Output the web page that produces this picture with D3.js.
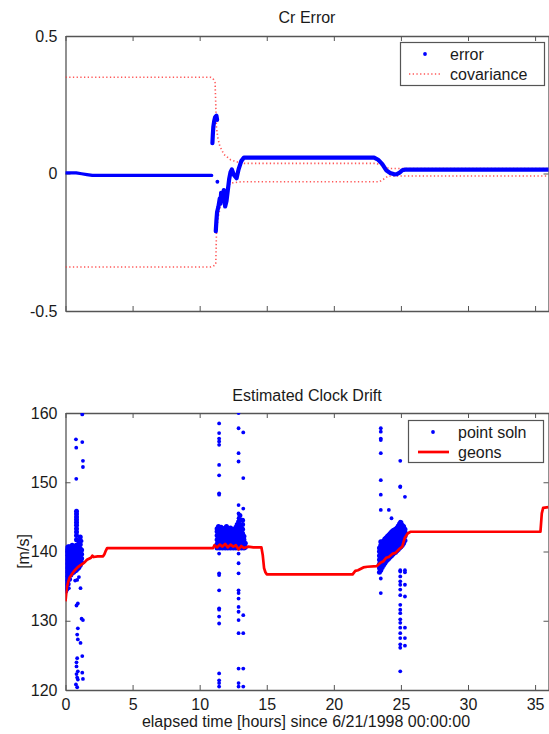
<!DOCTYPE html>
<html><head><meta charset="utf-8">
<script src="https://cdn.jsdelivr.net/npm/d3@7"></script>
<style>
html,body{margin:0;padding:0;background:#fff;}
svg{display:block;font-family:"Liberation Sans",Arial,Helvetica,sans-serif;}
</style></head><body>
<svg id="chart" width="549" height="734"></svg>
<script>
// ---------- DATA ----------
const xTicks = [0, 5, 10, 15, 20, 25, 30, 35];
const topYTicks = [-0.5, 0, 0.5];
const topYTickLabels = ["-0.5", "0", "0.5"];
const botYTicks = [120, 130, 140, 150, 160];
const topTitle = "Cr Error";
const botTitle = "Estimated Clock Drift";
const xLabel = "elapsed time [hours] since 6/21/1998 00:00:00";
const botYLabel = "[m/s]";
const topLegend = ["error", "covariance"];
const botLegend = ["point soln", "geons"];

// Cr error (dense dots, drawn as a thick trace) [hours, value]
const errorTraceA = [[0,0.002],[0.8,0.002],[1.2,-0.001],[1.6,-0.004],[2.0,-0.007],[10.9,-0.007]];
const errorTraceB = [[10.95,0.11],[10.98,0.14],[11.02,0.17],[11.08,0.19],[11.15,0.205],[11.25,0.21],[11.3,0.195]];
const errorTraceC = [[11.2,-0.21],[11.25,-0.17],[11.3,-0.14],[11.4,-0.12],[11.5,-0.09],[11.55,-0.11],[11.6,-0.07],[11.7,-0.1],[11.8,-0.06],[11.9,-0.12],[12.0,-0.1],[12.1,-0.06],[12.2,-0.02],[12.3,0.005],[12.4,0.015],[12.55,-0.005],[12.75,-0.017],[12.9,0.015],[13.1,0.045],[13.3,0.058],[23.0,0.058],[23.3,0.05],[23.6,0.035],[23.9,0.012],[24.2,0.002],[24.5,-0.003],[24.7,-0.002],[24.9,0.003],[25.1,0.012],[25.3,0.014],[36,0.014]];
const errorSingles = [[11.32,-0.03]];

// covariance bounds
const covUpper = [[0,0.35],[10.8,0.35],[11.0,0.345],[11.15,0.33],[11.2,0.25],[11.25,0.17],[11.35,0.13],[11.5,0.1],[11.8,0.07],[12.3,0.05],[13.1,0.037],[23.1,0.037],[23.6,0.03],[24.1,0.018],[36,0.018]];
const covLower = [[0,-0.34],[10.8,-0.34],[11.0,-0.338],[11.2,-0.33],[11.25,-0.22],[11.35,-0.17],[11.6,-0.1],[11.9,-0.06],[12.3,-0.035],[13.1,-0.03],[23.4,-0.03],[23.8,-0.018],[24.05,-0.009],[36,-0.009]];

// point solutions: dense clusters as [hour, y1, y2, ...]
const pointCluster1 = [
 [0.02,134.3,134.9,135.5,136.1,136.7,137.3,137.9,138.5,139.1,139.7,140.2],
 [0.1,134.6,135.2,135.8,136.4,137.0,137.6,138.2,138.8,139.4,140.0,140.5],
 [0.2,135.3,135.9,136.5,137.1,137.7,138.3,138.9,139.5,140.1,140.7],
 [0.3,136.0,136.6,137.2,137.8,138.4,139.0,139.6,140.2,140.7],
 [0.4,136.6,137.2,137.8,138.4,139.0,139.6,140.2,140.6],
 [0.5,136.9,137.5,138.1,138.7,139.3,139.9,140.5,140.9],
 [0.6,137.0,137.6,138.2,138.8,139.4,140.0,140.6],
 [0.7,137.2,137.8,138.4,139.0,139.6,140.2,140.7],
 [0.8,137.3,137.9,138.5,139.1,139.7,140.3,140.9],
 [0.9,137.5,138.1,138.7,139.3,139.9,140.5],
 [1.0,137.7,138.3,138.9,139.5,140.1,140.7,141.2],
 [1.1,138.0,138.6,139.2,139.8,140.4,141.0,141.6,142.1],
 [1.2,138.4,139.0,139.6,140.2],
 [0.82,141.7,142.3,142.8,143.3,143.8,144.2,144.6,145.0,145.4,145.8]
];
const pointCluster2 = [
 [11.3,140.5,141.1,141.7,142.3,142.9,143.3],[11.4,140.8,141.4,142.0,142.6,143.2,143.6],
 [11.5,140.5,141.1,141.7,142.3,142.9],[11.6,140.8,141.4,142.0,142.6,143.2,143.5],
 [11.7,140.5,141.1,141.7,142.3,142.9,143.3],[11.8,140.8,141.4,142.0,142.6,143.2],
 [11.9,140.5,141.1,141.7,142.3,142.9,143.4],[12.0,140.8,141.4,142.0,142.6,143.2,143.6],
 [12.1,140.5,141.1,141.7,142.3,142.9,143.3],[12.2,140.8,141.4,142.0,142.6,143.1],
 [12.3,140.5,141.1,141.7,142.3,142.9,143.4],[12.4,140.8,141.4,142.0,142.6,143.2],
 [12.5,140.5,141.1,141.7,142.3,142.9],[12.6,140.8,141.4,142.0,142.6,143.2],
 [12.7,140.5,141.1,141.7,142.3,142.9,143.5],[12.8,140.8,141.4,142.0,142.6,143.2,143.9],
 [12.9,140.5,141.1,141.7,142.3,142.9,143.5,144.3],[13.0,140.8,141.4,142.0,142.6,143.2,143.8,144.6,145.2],
 [13.1,140.5,141.1,141.7,142.3,142.9,143.4],[13.2,140.8,141.4,142.0,142.6,143.2,143.9,144.5],
 [13.3,140.5,141.1,141.7,142.2],[13.4,140.6,141.2]
];
const pointCluster3 = [
 [23.4,137.0,137.6,138.2,138.8,139.4,140.0,140.5],[23.5,137.3,137.9,138.5,139.1,139.7,140.3,140.9,141.4],
 [23.6,137.7,138.3,138.9,139.5,140.1,140.7,141.2],[23.7,138.0,138.6,139.2,139.8,140.4,141.0,141.5],
 [23.8,138.3,138.9,139.5,140.1,140.7,141.3,141.8],[23.9,138.6,139.2,139.8,140.4,141.0,141.6,142.0],
 [24.0,138.8,139.4,140.0,140.6,141.2,141.8,142.2],[24.1,139.0,139.6,140.2,140.8,141.4,142.0,142.4],
 [24.2,139.2,139.8,140.4,141.0,141.6,142.2,142.6],[24.3,139.4,140.0,140.6,141.2,141.8,142.4,142.8],
 [24.4,139.6,140.2,140.8,141.4,142.0,142.6,143.0],[24.5,139.8,140.4,141.0,141.6,142.2,142.8,143.1],
 [24.6,139.9,140.5,141.1,141.7,142.3,142.9,143.2],[24.7,140.1,140.7,141.3,141.9,142.5,143.1,143.4],
 [24.8,140.3,140.9,141.5,142.1,142.7,143.3,143.7],[24.9,140.5,141.1,141.7,142.3,142.9,143.5,144.0],
 [25.0,140.7,141.3,141.9,142.5,143.1,143.7,144.2],[25.1,140.9,141.5,142.1,142.7,143.3,143.8],
 [25.2,141.2,141.8,142.4,143.0,143.6],[25.3,141.6,142.2,142.8,143.2]
];
// scattered point solutions (outliers) as [hour, y1, y2, ...]
const pointOutliers = [
 [1.25,159.8,155.8,124.9,122.5],[0.78,156.2,120.8],[0.8,155.0,150.5],[1.3,153.1,152.2,130.1,121.6],
 [1.2,141.5,130.3],[0.25,134.7],[0.87,135.9,128.0,124.6,121.8,120.4],[0.72,135.8],[1.12,134.7,126.8],
 [1.0,136.3],[0.92,132.5,128.9,127.3,122.7,121.5],[0.82,132.2,124.0,123.4,122.3],
 [11.45,158.5,157.1,156.3,155.9,155.4,152.5,151.0,148.4,148.2,139.7,136.85,136.6,134.4,131.8,131.6,130.6,129.6,122.4,121.4,121.0,120.5],
 [12.9,160,157.8,154.2,153.0,146.7,145.5,144.8,139.7,138.3,136.85,134.4,134.0,133.2,132.0,131.3,130.1,128.2,123.1,121.0,120.5],
 [13.25,157.2,150.6,146.2,130.8,128.2,123.1,120.5],
 [23.5,157.8,157.3,156.3,156.1,154.2,150.3,148.2,146.0,137.3,136.1,134.0],
 [24.1,146.0],[24.3,144.8],
 [24.95,153.1,149.4,149.3,144.3,143.6,137.3,137.1,136.4,135.7,135.2,134.5,133.7,132.3,131.6,131.1,130.2,129.7,129.0,128.2,127.5,126.6,126.1,122.7],
 [25.3,147.9,137.3,137.0,135.2,133.5,129.0,127.5,126.4]
];

// geons clock drift estimate [hour, m/s]
const geons = [[0.0,132.8],[0.05,133.8],[0.1,134.8],[0.2,135.6],[0.3,136.2],[0.5,136.8],[0.7,137.3],[0.9,137.7],[1.1,138.0],[1.4,138.4],[1.6,138.8],[1.9,139.1],[2.0,139.4],[2.1,139.2],[2.4,139.3],[2.8,139.3],[2.9,139.6],[3.0,140.1],[3.1,140.5],[11.0,140.5],[11.1,140.9],[11.3,140.6],[11.5,141.0],[11.7,140.7],[11.9,141.1],[12.1,140.6],[12.3,141.0],[12.5,140.7],[12.7,140.9],[12.9,140.3],[13.1,140.8],[13.3,140.5],[13.6,140.7],[14.0,140.6],[14.6,140.6],[14.7,139.5],[14.8,137.6],[14.9,137.0],[15.0,136.7],[21.4,136.7],[21.6,137.2],[21.8,137.3],[22.2,137.7],[22.5,137.8],[23.2,137.9],[23.5,138.4],[23.7,138.6],[23.9,139.1],[24.1,139.2],[24.4,139.7],[24.6,139.8],[24.9,140.4],[25.1,140.7],[25.2,141.4],[25.3,142.0],[25.5,142.6],[25.7,142.85],[35.4,142.85],[35.5,145.5],[35.6,146.3],[36,146.4]];

// ---------- DRAW ----------
const svg = d3.select("#chart");
const L = 65.5, R = 548.5;
const topBox = {t: 36, b: 311};
const botBox = {t: 413, b: 690};
const x = d3.scaleLinear().domain([0, 36]).range([L, R]);
const yTop = d3.scaleLinear().domain([-0.5, 0.5]).range([topBox.b, topBox.t]);
const yBot = d3.scaleLinear().domain([120, 160]).range([botBox.b, botBox.t]);
const AX = "#555";
const FS = 16;
const TXT = "#1a1a1a";

function frame(y, box, yTicks, fmt, showX, id) {
  const g = svg.append("g");
  g.append("rect").attr("x", L).attr("y", box.t).attr("width", R - L).attr("height", box.b - box.t).attr("fill", "#fff");
  const ax = [
    g.append("g").attr("transform", `translate(0,${box.b})`).call(d3.axisBottom(x).tickValues(xTicks).tickSize(-5).tickSizeOuter(0).tickPadding(9).tickFormat(showX ? d3.format("d") : "")),
    g.append("g").attr("transform", `translate(0,${box.t})`).call(d3.axisTop(x).tickValues(xTicks).tickSize(-5).tickSizeOuter(0).tickFormat("")),
    g.append("g").attr("transform", `translate(${L},0)`).call(d3.axisLeft(y).tickValues(yTicks).tickSize(-5).tickSizeOuter(0).tickPadding(8).tickFormat(fmt)),
    g.append("g").attr("transform", `translate(${R},0)`).call(d3.axisRight(y).tickValues(yTicks).tickSize(-5).tickSizeOuter(0).tickFormat(""))
  ];
  ax.forEach(a => {
    a.select(".domain").attr("stroke", AX).attr("stroke-width", 1.3);
    a.selectAll(".tick line").attr("stroke", AX).attr("stroke-width", 1);
    a.selectAll(".tick text").attr("fill", TXT).style("font-size", FS + "px").style("font-family", '"Liberation Sans",Arial,sans-serif');
  });
  svg.append("clipPath").attr("id", id).append("rect").attr("x", L).attr("y", box.t).attr("width", R - L).attr("height", box.b - box.t);
  return g;
}

// top panel
frame(yTop, topBox, topYTicks, d => topYTickLabels[topYTicks.indexOf(d)], false, "clipTop");
const gT = svg.append("g").attr("clip-path", "url(#clipTop)");
const lineT = d3.line().x(d => x(d[0])).y(d => yTop(d[1]));
[covUpper, covLower].forEach(c => {
  gT.append("path").attr("d", lineT(c)).attr("fill", "none").attr("stroke", "#ff3b3b")
    .attr("stroke-width", 1.6).attr("stroke-dasharray", "1.3,2.4").attr("opacity", 0.85);
});
[errorTraceA, errorTraceB, errorTraceC].forEach((tr, i) => {
  gT.append("path").attr("d", lineT(tr)).attr("fill", "none").attr("stroke", "#0000ff")
    .attr("stroke-width", i === 0 ? 3.2 : 4.2).attr("stroke-linejoin", "round").attr("stroke-linecap", "round");
});
gT.selectAll("circle.s").data(errorSingles).join("circle").attr("cx", d => x(d[0])).attr("cy", d => yTop(d[1])).attr("r", 1.9).attr("fill", "#0000ff");

svg.append("text").attr("x", (L + R) / 2).attr("y", 23).attr("text-anchor", "middle").style("font-size", FS + "px").attr("fill", TXT).text(topTitle);

// top legend
const lgT = svg.append("g");
lgT.append("rect").attr("x", 400.5).attr("y", 42.5).attr("width", 144).attr("height", 43).attr("fill", "#fff").attr("stroke", AX).attr("stroke-width", 1.2);
lgT.append("circle").attr("cx", 425).attr("cy", 54).attr("r", 1.9).attr("fill", "#0000ff");
lgT.append("line").attr("x1", 409).attr("x2", 441).attr("y1", 74).attr("y2", 74).attr("stroke", "#ff3b3b").attr("stroke-width", 1.6).attr("stroke-dasharray", "1.3,2.4").attr("opacity", 0.85);
lgT.append("text").attr("x", 450).attr("y", 59.5).style("font-size", FS + "px").attr("fill", TXT).text(topLegend[0]);
lgT.append("text").attr("x", 450).attr("y", 79.5).style("font-size", FS + "px").attr("fill", TXT).text(topLegend[1]);

// bottom panel
frame(yBot, botBox, botYTicks, d3.format("d"), true, "clipBot");
const gB = svg.append("g").attr("clip-path", "url(#clipBot)");
const toPts = cl => { const o = []; cl.forEach(row => row.slice(1).forEach(v => o.push([row[0], v]))); return o; };
const dense = [pointCluster1, pointCluster2, pointCluster3].flatMap(toPts);
const sparse = toPts(pointOutliers);
gB.selectAll("circle.d").data(dense).join("circle").attr("class", "d")
  .attr("cx", d => x(d[0])).attr("cy", d => yBot(d[1])).attr("r", 2.5).attr("fill", "#0000ff");
gB.selectAll("circle.o").data(sparse).join("circle").attr("class", "o")
  .attr("cx", d => x(d[0])).attr("cy", d => yBot(d[1])).attr("r", 1.9).attr("fill", "#0000ff");
const lineB = d3.line().x(d => x(d[0])).y(d => yBot(d[1]));
gB.append("path").attr("d", lineB(geons)).attr("fill", "none").attr("stroke", "#ff0000").attr("stroke-width", 2.7).attr("stroke-linejoin", "round");

svg.append("text").attr("x", (L + R) / 2).attr("y", 401).attr("text-anchor", "middle").style("font-size", FS + "px").attr("fill", TXT).text(botTitle);
svg.append("text").attr("x", (L + R) / 2 - 1).attr("y", 727).attr("text-anchor", "middle").style("font-size", FS + "px").attr("fill", TXT).text(xLabel);
svg.append("text").attr("transform", `translate(29,${(botBox.t + botBox.b) / 2}) rotate(-90)`).attr("text-anchor", "middle").style("font-size", FS + "px").attr("fill", TXT).text(botYLabel);

// bottom legend
const lgB = svg.append("g");
lgB.append("rect").attr("x", 408.5).attr("y", 420.5).attr("width", 135).attr("height", 42).attr("fill", "#fff").attr("stroke", AX).attr("stroke-width", 1.2);
lgB.append("circle").attr("cx", 433).attr("cy", 432).attr("r", 1.9).attr("fill", "#0000ff");
lgB.append("line").attr("x1", 418).attr("x2", 449).attr("y1", 452).attr("y2", 452).attr("stroke", "#ff0000").attr("stroke-width", 2.7);
lgB.append("text").attr("x", 458).attr("y", 437.5).style("font-size", FS + "px").attr("fill", TXT).text(botLegend[0]);
lgB.append("text").attr("x", 458).attr("y", 457.5).style("font-size", FS + "px").attr("fill", TXT).text(botLegend[1]);
</script></body></html>
